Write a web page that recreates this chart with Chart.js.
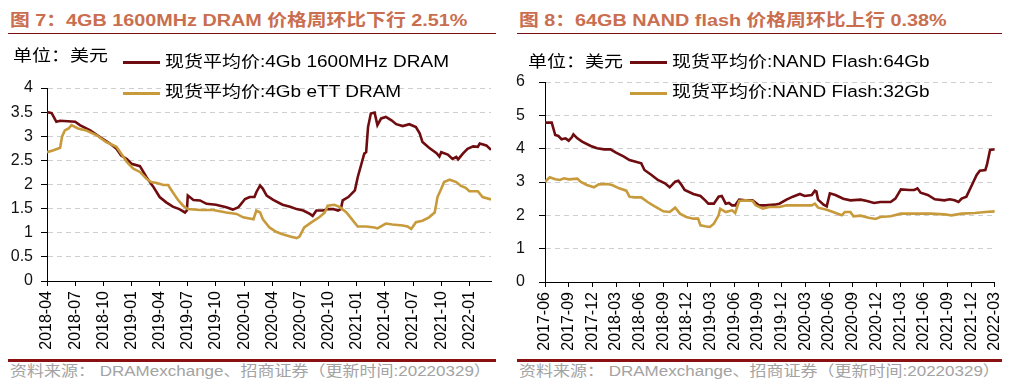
<!DOCTYPE html>
<html>
<head>
<meta charset="utf-8">
<script src="https://cdn.jsdelivr.net/npm/chart.js@4.4.1/dist/chart.umd.min.js"></script>
<style>
  body { margin: 0; width: 1019px; height: 388px; background: #fff; position: relative; overflow: hidden;
         font-family: "Liberation Sans", Arial, "Noto Sans CJK SC", sans-serif; }
  .abs { position: absolute; white-space: nowrap; line-height: 20px; }
  .title { font-weight: bold; font-size: 19.8px; color: #C96E4E; transform: scaleY(0.85); transform-origin: left center; }
  .rule { position: absolute; height: 1px; background: #7d0e10; }
  .foot-rule { position: absolute; height: 3px; background: #8a1012; }
  .foot { font-size: 17px; color: #a3a3a3; transform: scaleY(0.85); transform-origin: left center; }
  .unit, .leg { font-size: 19px; color: #000; transform: scaleY(0.85); transform-origin: left center; }
  .key { position: absolute; width: 37px; height: 3px; }
  canvas { position: absolute; top: 0; }
</style>
</head>
<body>
<div class="abs title" style="left:10px;top:10px">图 7：4GB 1600MHz DRAM 价格周环比下行 2.51%</div>
<div class="abs title" style="left:519px;top:10px">图 8：64GB NAND flash 价格周环比上行 0.38%</div>
<div class="rule" style="left:8px;top:33px;width:488px"></div>
<div class="rule" style="left:517px;top:33px;width:485px"></div>

<canvas id="dramChart" width="505" height="358" style="left:0"></canvas>
<canvas id="nandChart" width="509" height="358" style="left:510px"></canvas>

<div class="abs unit" style="left:13px;top:46px">单位：美元</div>
<div class="key" style="left:123px;top:61px;background:#6f0c10"></div>
<div class="abs leg" style="left:165px;top:52px">现货平均价:4Gb 1600MHz DRAM</div>
<div class="key" style="left:123px;top:92px;background:#c79a3b"></div>
<div class="abs leg" style="left:165px;top:82px">现货平均价:4Gb eTT DRAM</div>

<div class="abs unit" style="left:528px;top:52px">单位：美元</div>
<div class="key" style="left:630px;top:61px;background:#6f0c10"></div>
<div class="abs leg" style="left:672px;top:52px">现货平均价:NAND Flash:64Gb</div>
<div class="key" style="left:630px;top:92px;background:#c79a3b"></div>
<div class="abs leg" style="left:672px;top:82px">现货平均价:NAND Flash:32Gb</div>

<div class="foot-rule" style="left:8px;top:359px;width:488px"></div>
<div class="foot-rule" style="left:517px;top:359px;width:485px"></div>
<div class="abs foot" style="left:10px;top:362px">资料来源： DRAMexchange、招商证券（更新时间:20220329）</div>
<div class="abs foot" style="left:519px;top:362px">资料来源： DRAMexchange、招商证券（更新时间:20220329）</div>

<script>
// months counted from 2018-04 (left) and 2017-06 (right)
const dramTicks = ['2018-04', '2018-07', '2018-10', '2019-01', '2019-04', '2019-07', '2019-10', '2020-01',
    '2020-04', '2020-07', '2020-10', '2021-01', '2021-04', '2021-07', '2021-10', '2022-01'];
const nandTicks = ['2017-06', '2017-09', '2017-12', '2018-03', '2018-06', '2018-09', '2018-12', '2019-03',
    '2019-06', '2019-09', '2019-12', '2020-03', '2020-06', '2020-09', '2020-12', '2021-03', '2021-06',
    '2021-09', '2021-12', '2022-03'];

const dram1600Months = [0, 0.5, 1.0, 1.4, 3.0, 3.5, 4.6, 5.6, 6.7, 7.4, 7.9, 8.5, 9.0, 9.9, 10.6, 11.3,
    12.0, 12.7, 13.4, 14.1, 14.7, 14.9, 15.0, 15.2, 15.6, 16.3, 17.0, 18.0, 19.1, 19.8, 20.4, 21.1, 21.6, 22.1,
    22.3, 22.7, 23.0, 23.4, 24.1, 25.1, 25.9, 26.6, 27.3, 28.0, 28.3, 28.7, 29.4, 29.9, 30.5, 31.0, 31.3, 31.5,
    32.1, 32.8, 33.1, 33.5, 33.8, 34.0, 34.2, 34.5, 34.9, 35.2, 35.6, 36.1, 36.7, 37.2, 37.9, 38.6, 39.3, 39.7,
    40.0, 40.7, 41.5, 41.8, 42.0, 42.7, 43.2, 43.6, 43.8, 44.3, 44.8, 45.4, 45.9, 46.1, 46.8, 47.3];
const dram1600Price = [3.50, 3.48, 3.30, 3.32, 3.30, 3.23, 3.12, 2.99, 2.85, 2.74, 2.60, 2.53, 2.43, 2.38, 2.15, 1.96,
    1.74, 1.63, 1.54, 1.49, 1.42, 1.46, 1.77, 1.74, 1.68, 1.67, 1.60, 1.58, 1.53, 1.48, 1.53, 1.70, 1.74, 1.74,
    1.84, 1.98, 1.91, 1.77, 1.68, 1.58, 1.54, 1.49, 1.46, 1.39, 1.35, 1.46, 1.46, 1.49, 1.49, 1.46, 1.49, 1.67,
    1.74, 1.88, 2.15, 2.43, 2.64, 2.67, 3.19, 3.47, 3.49, 3.23, 3.37, 3.40, 3.33, 3.25, 3.21, 3.25, 3.19, 3.06,
    2.88, 2.76, 2.65, 2.58, 2.67, 2.62, 2.53, 2.57, 2.52, 2.64, 2.74, 2.79, 2.78, 2.85, 2.81, 2.72];

const dramEttMonths = [0, 0.7, 1.4, 1.6, 1.9, 2.3, 2.6, 3.3, 4.2, 5.3, 6.3, 7.4, 7.8, 8.5, 9.2, 9.9, 10.6, 11.1,
    11.7, 12.4, 12.9, 13.4, 14.0, 14.5, 15.0, 16.3, 17.7, 19.1, 20.2, 20.9, 22.0, 22.3, 22.7, 23.0, 23.7, 24.4,
    25.1, 25.9, 26.6, 26.9, 27.4, 28.2, 29.0, 29.6, 29.9, 30.6, 31.2, 31.9, 32.6, 33.1, 34.0, 34.9, 35.2, 36.1,
    36.8, 37.9, 38.4, 38.8, 39.3, 40.0, 40.7, 41.3, 41.6, 42.0, 42.3, 42.9, 43.6, 44.1, 44.6, 45.0, 45.9, 46.4, 47.3];
const dramEttPrice = [2.67, 2.71, 2.76, 2.99, 3.12, 3.16, 3.23, 3.16, 3.12, 3.02, 2.88, 2.78, 2.67, 2.47, 2.33, 2.26, 2.12, 2.05,
    2.03, 1.99, 1.99, 1.84, 1.67, 1.56, 1.49, 1.47, 1.47, 1.42, 1.39, 1.32, 1.28, 1.46, 1.42, 1.28, 1.11, 1.02,
    0.97, 0.92, 0.89, 0.92, 1.11, 1.22, 1.32, 1.42, 1.56, 1.58, 1.53, 1.42, 1.25, 1.13, 1.13, 1.11, 1.09, 1.19,
    1.17, 1.15, 1.13, 1.08, 1.22, 1.25, 1.32, 1.42, 1.74, 1.91, 2.05, 2.10, 2.05, 1.97, 1.93, 1.86, 1.86, 1.74, 1.69];

const nand64Months = [0, 0.85, 1.3, 1.7, 2.1, 2.6, 3.0, 3.4, 3.6, 4.1, 4.7, 5.8, 6.6, 7.5, 8.3, 9.0, 10.0, 10.7,
    11.5, 12.2, 12.6, 13.5, 14.3, 15.2, 15.8, 16.5, 16.9, 17.3, 17.7, 18.8, 19.7, 20.3, 20.7, 21.4, 22.0, 22.4,
    22.9, 23.3, 23.7, 24.1, 24.6, 25.4, 26.3, 27.1, 28.0, 29.1, 29.7, 30.6, 31.4, 32.3, 32.9, 33.8, 34.2, 34.4,
    34.6, 35.3, 35.7, 36.1, 36.8, 37.8, 38.7, 40.0, 40.8, 41.7, 42.5, 43.8, 44.4, 45.1, 46.2, 46.8, 47.2, 47.6,
    48.5, 49.4, 50.6, 51.3, 51.9, 52.4, 52.8, 53.4, 54.1, 54.7, 55.1, 55.8, 56.0, 56.4, 57.0];
const nand64Price = [4.78, 4.78, 4.41, 4.38, 4.28, 4.31, 4.24, 4.34, 4.43, 4.31, 4.21, 4.08, 4.01, 3.98, 3.98, 3.88, 3.76, 3.66,
    3.61, 3.56, 3.36, 3.21, 3.06, 2.96, 2.84, 3.01, 3.04, 2.91, 2.76, 2.64, 2.58, 2.45, 2.35, 2.35, 2.56, 2.58,
    2.35, 2.37, 2.30, 2.30, 2.47, 2.45, 2.45, 2.30, 2.30, 2.32, 2.35, 2.47, 2.56, 2.64, 2.58, 2.61, 2.74, 2.71,
    2.47, 2.32, 2.27, 2.66, 2.61, 2.50, 2.45, 2.47, 2.43, 2.37, 2.40, 2.40, 2.50, 2.78, 2.76, 2.76, 2.81, 2.68,
    2.61, 2.48, 2.45, 2.48, 2.45, 2.40, 2.50, 2.56, 2.91, 3.21, 3.34, 3.36, 3.51, 3.96, 3.98];

const nand32Months = [0, 0.6, 1.3, 1.9, 2.4, 3.0, 4.1, 4.5, 5.3, 6.2, 6.8, 7.9, 8.5, 9.4, 10.3, 10.7, 11.3, 12.2,
    13.0, 13.9, 15.0, 15.8, 16.5, 17.1, 17.9, 18.8, 19.4, 19.7, 20.3, 20.9, 21.4, 22.0, 22.2, 22.9, 23.7, 24.1,
    24.6, 25.4, 26.3, 26.7, 27.6, 28.4, 29.7, 30.6, 32.3, 33.8, 34.2, 34.6, 35.7, 36.5, 37.6, 38.0, 38.7, 39.1,
    40.0, 41.0, 41.9, 42.5, 43.8, 45.1, 46.8, 48.9, 50.6, 51.5, 52.8, 54.5, 55.8, 57.0];
const nand32Price = [3.01, 3.14, 3.08, 3.06, 3.11, 3.08, 3.10, 3.01, 2.91, 2.84, 2.93, 2.94, 2.91, 2.81, 2.74, 2.56, 2.54, 2.54,
    2.40, 2.27, 2.12, 2.10, 2.23, 2.05, 1.95, 1.90, 1.90, 1.70, 1.67, 1.65, 1.75, 2.00, 2.20, 2.10, 2.15, 2.07,
    2.43, 2.45, 2.43, 2.30, 2.20, 2.25, 2.25, 2.30, 2.30, 2.30, 2.35, 2.23, 2.17, 2.10, 2.00, 2.10, 2.10, 1.97,
    1.99, 1.93, 1.89, 1.95, 1.97, 2.05, 2.05, 2.05, 2.03, 2.00, 2.05, 2.07, 2.10, 2.12];

const DARK = '#6f0c10';
const GOLD = '#c79a3b';

const toPoints = (xs, ys) => xs.map((x, i) => ({ x: x, y: ys[i] }));

const lineSet = (data, color) => ({
    data: data,
    borderColor: color,
    borderWidth: 2.6,
    pointRadius: 0,
    tension: 0,
    fill: false
});

// shared axis setup, only the sizes differ between the two panels
const buildOptions = (o) => ({
    responsive: false,
    animation: false,
    layout: { padding: { left: 0, top: o.top, right: o.right, bottom: 0 } },
    plugins: { legend: { display: false }, tooltip: { enabled: false } },
    scales: {
        x: {
            type: 'linear',
            min: 0,
            max: o.xMax,
            afterFit: (s) => { s.height = o.xHeight; },
            ticks: {
                stepSize: 3,
                includeBounds: false,
                autoSkip: false,
                minRotation: 90,
                maxRotation: 90,
                padding: 5,
                color: '#000',
                font: { family: 'Liberation Sans', size: 16 },
                callback: (v) => o.labels[Math.round(v / 3)]
            },
            grid: { drawOnChartArea: false, tickLength: 5, tickColor: '#000' },
            border: { color: '#000', width: 1 }
        },
        y: {
            min: 0,
            max: o.yMax,
            afterFit: (s) => { s.width = o.yWidth; },
            ticks: {
                stepSize: o.yStep,
                padding: o.yPad,
                color: '#111',
                font: { family: 'Liberation Sans', size: 16 },
                callback: (v) => String(v)
            },
            grid: {
                color: (c) => (c.tick && c.tick.value === 0 ? 'rgba(0,0,0,0)' : '#cfcfcf'),
                tickColor: '#000',
                tickLength: 6
            },
            border: { color: '#000', width: 1, dash: [5, 4] }
        }
    }
});

new Chart(document.getElementById('dramChart'), {
    type: 'line',
    data: {
        datasets: [
            lineSet(toPoints(dramEttMonths, dramEttPrice), GOLD),
            lineSet(toPoints(dram1600Months, dram1600Price), DARK)
        ]
    },
    options: buildOptions({ top: 88, right: 14, xMax: 47.3, xHeight: 77, labels: dramTicks,
        yMax: 4, yStep: 0.5, yWidth: 47, yPad: 8 })
});

new Chart(document.getElementById('nandChart'), {
    type: 'line',
    data: {
        datasets: [
            lineSet(toPoints(nand32Months, nand32Price), GOLD),
            lineSet(toPoints(nand64Months, nand64Price), DARK)
        ]
    },
    options: buildOptions({ top: 82, right: 20, xMax: 57, xHeight: 76, labels: nandTicks,
        yMax: 6, yStep: 1, yWidth: 35, yPad: 14 })
});
</script>
</body>
</html>
